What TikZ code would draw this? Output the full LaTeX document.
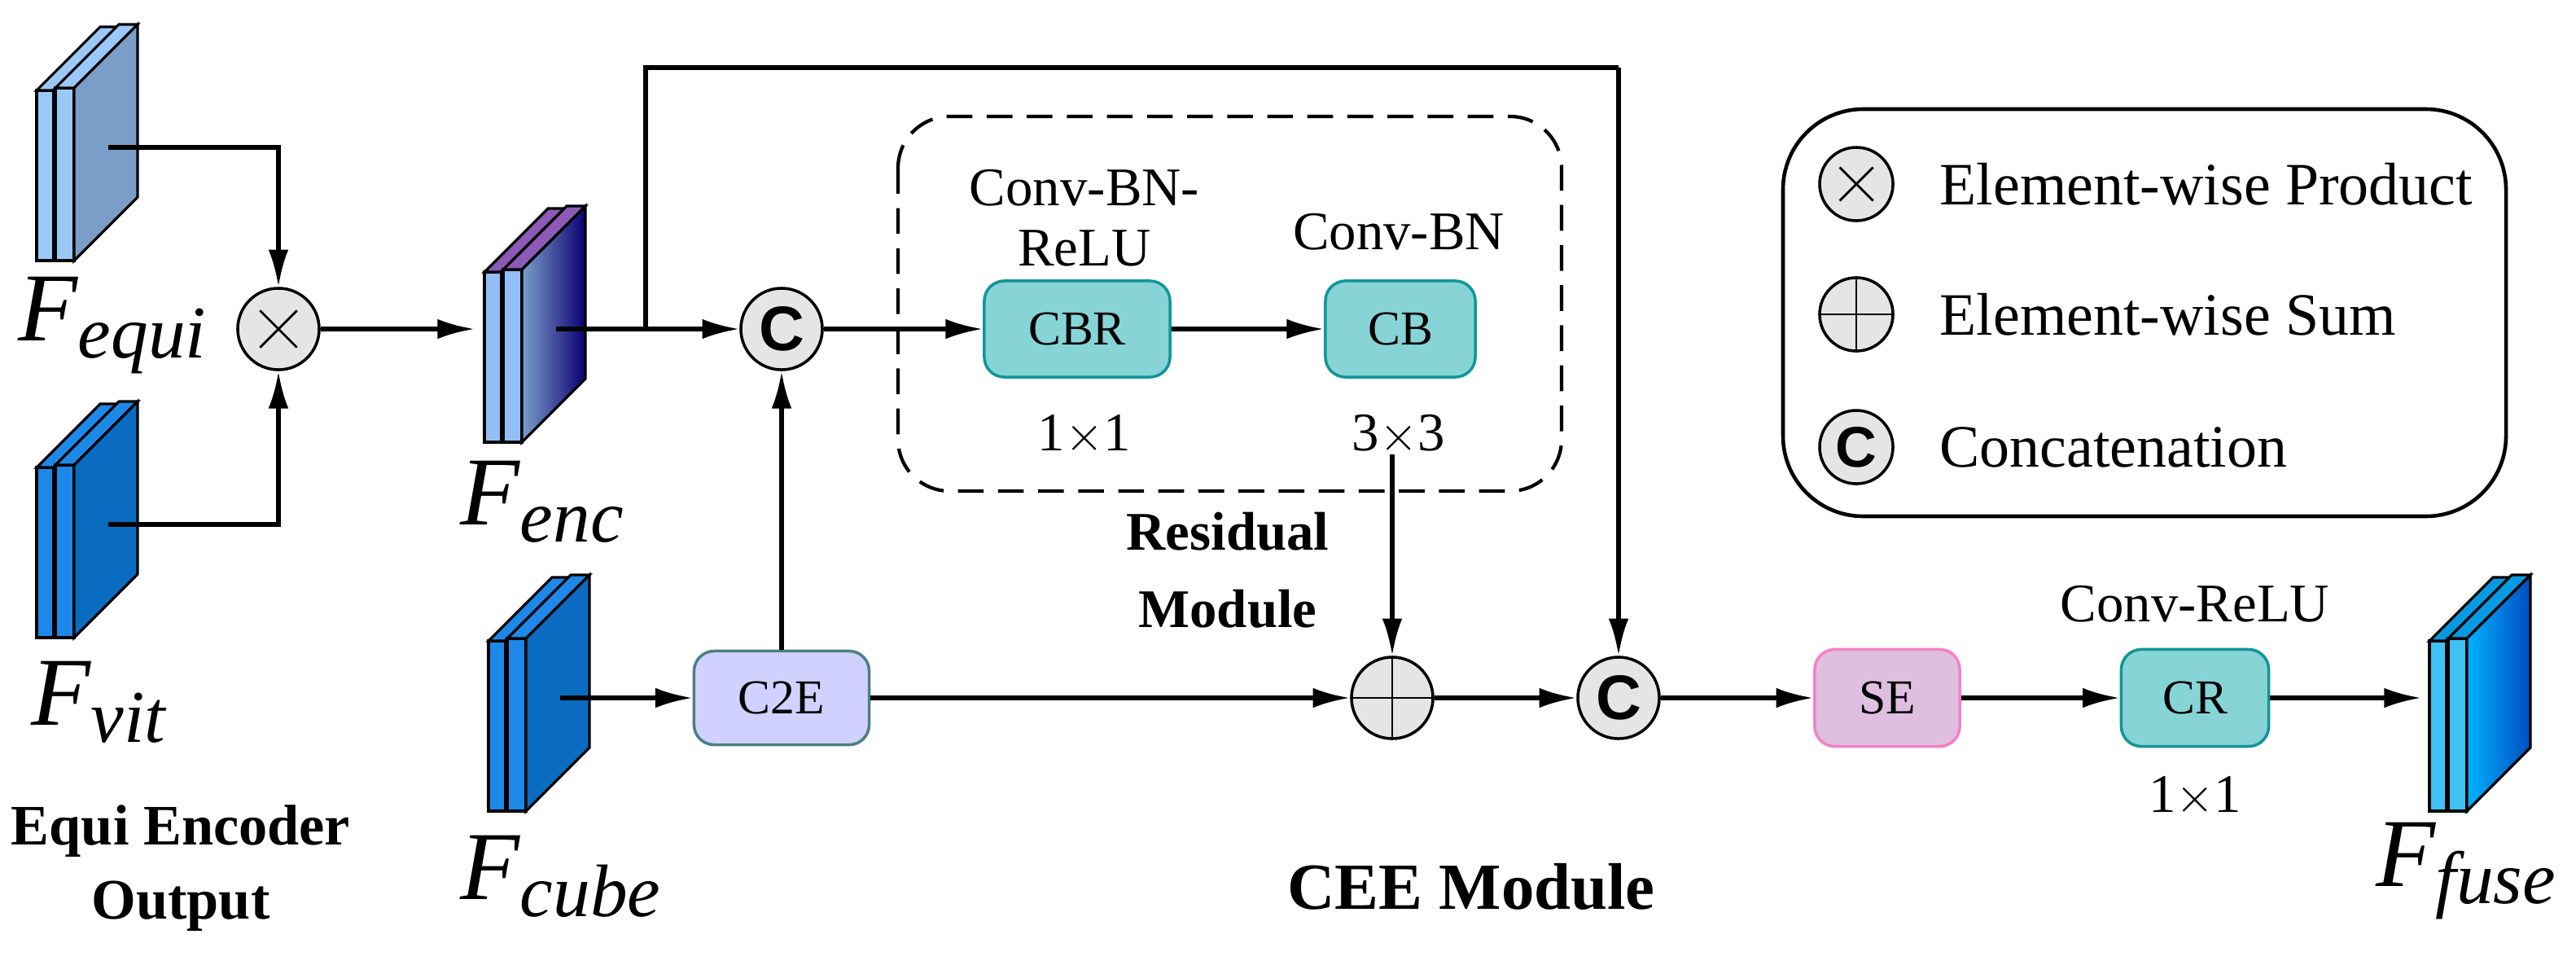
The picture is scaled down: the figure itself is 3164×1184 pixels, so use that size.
\documentclass[tikz,border=0pt]{standalone}
\usepackage{fontspec}
\setmainfont{Liberation Serif}
\newfontfamily\csans{Liberation Sans}
\usetikzlibrary{arrows.meta,calc}
\newcommand{\fs}[1]{\fontsize{#1}{#1}\selectfont}
% #1 x0, #2 y0, #3 strip colour, #4 strip top colour, #5 face left, #6 face right, #7 name
\newcommand{\fmap}[7]{%
  \draw[blk,fill=#3] (#1,#2+3) rectangle (#1+21,#2+212);
  \draw[blk,fill=#4] (#1,#2+3) -- (#1+78,#2-75) -- (#1+99,#2-75) -- (#1+21,#2+3) -- cycle;
  \draw[blk,fill=#3] (#1+23,#2) rectangle (#1+46,#2+212);
  \draw[blk,fill=#4] (#1+23,#2) -- (#1+101,#2-78) -- (#1+124,#2-78) -- (#1+46,#2) -- cycle;
  \draw[blk,left color=#5,right color=#6] (#1+46,#2) -- (#1+124,#2-78) -- (#1+124,#2+134) -- (#1+46,#2+212) -- cycle;
  \coordinate (#7) at (#1+88,#2+73);}
\definecolor{lb}{HTML}{9CC8F8}
\definecolor{lbf}{HTML}{7A9EC8}
\definecolor{db}{HTML}{1E88E8}
\definecolor{dbf}{HTML}{0A6CC0}
\definecolor{teal1}{HTML}{86D4D6}
\definecolor{teal2}{HTML}{12959A}
\begin{document}
\begin{tikzpicture}[x=0.01cm,y=-0.01cm,
  blk/.style={line width=0.9pt,line join=miter},
  arr/.style={line width=1.5pt,-{Latex[length=13pt,width=7pt]}},
  ln/.style={line width=1.5pt},
  op/.style={circle,draw,line width=1pt,fill=black!10,minimum size=1cm,inner sep=0pt},
  lop/.style={op,minimum size=0.9cm},
  box/.style={draw,rounded corners=7pt,line width=1pt,font=\fs{17},inner sep=0pt},
  txt/.style={font=\fs{19},align=center},
  btxt/.style={font=\fs{19}\bfseries,align=center},
  lbl/.style={inner sep=0pt}]
\useasboundingbox (0,0) rectangle (3164,1184);

% feature maps
\fmap{45}{108}{lb}{lb}{lbf}{lbf}{equiC}
\fmap{45}{571}{db}{db}{dbf}{dbf}{vitC}
\fmap{595}{331}{lb!95!blue}{violet!55!lb}{lbf}{blue!45!black!90!violet}{encC}
\fmap{600}{784}{db}{db}{dbf}{dbf}{cubeC}
\fmap{2984}{784}{cyan!75!white}{cyan!85!blue}{cyan!70!blue}{blue!65!black!70!cyan}{fuseC}

% labels of feature maps
\newcommand{\Flab}[1]{{\fs{34}\itshape F}\raisebox{-0.6em}{\fs{26}\itshape #1}}
\node[lbl,anchor=west] (lequi) at (22,400) {\Flab{equi}};
\node[lbl,anchor=west] (lvit) at (38,862) {\Flab{vit}};
\node[lbl,anchor=west] (lenc) at (565,616) {\Flab{enc}};
\node[lbl,anchor=west] (lcube) at (565,1076) {\Flab{cube}};
\node[lbl,anchor=west] (lfuse) at (2918,1070) {\Flab{fuse}};
\node[btxt,font=\fs{20}\bfseries] (eeo) at (222,1066) {Equi Encoder\\[6pt]Output};

% operators
\node[op] (mul) at (342,404) {};
\draw[line width=0.8pt] ($(mul.center)!0.62!(mul.north west)$) -- ($(mul.center)!0.62!(mul.south east)$);
\draw[line width=0.8pt] ($(mul.center)!0.62!(mul.north east)$) -- ($(mul.center)!0.62!(mul.south west)$);
\node[op,font=\fs{22}\csans\bfseries] (c1) at (960,404) {C};
\node[op] (plus) at (1710,857) {};
\draw[line width=0.8pt] (plus.north) -- (plus.south) (plus.west) -- (plus.east);
\node[op,font=\fs{22}\csans\bfseries] (c2) at (1988,857) {C};

% residual module
\draw[line width=1.2pt,dash pattern=on 9pt off 5pt,rounded corners=18pt] (1103,143) rectangle (1918,603);
\node[box,fill=teal1,draw=teal2,minimum width=2.28cm,minimum height=1.18cm] (cbr) at (1323,404) {CBR};
\node[box,fill=teal1,draw=teal2,minimum width=1.84cm,minimum height=1.18cm] (cb) at (1720,404) {CB};
\node[txt] (tcbr) at (1332,268) {Conv-BN-\\[2pt]ReLU};
\node[txt] (tcb) at (1718,285) {Conv-BN};
\node[txt] (k1) at (1332,534) {1$\times$1};
\node[txt] (k3) at (1718,534) {3$\times$3};
\coordinate (rs) at (1710,558);
\node[btxt] (res) at (1508,700) {Residual\\[8pt]Module};

% lower path boxes
\node[box,fill=blue!18!white,draw=teal!40!gray,minimum width=2.15cm,minimum height=1.15cm] (c2e) at (960,857) {C2E};
\node[box,fill=violet!25!white,draw=magenta!50!white,minimum width=1.78cm,minimum height=1.19cm] (se) at (2318,857) {SE};
\node[box,fill=teal1,draw=teal2,minimum width=1.81cm,minimum height=1.19cm] (cr) at (2696,857) {CR};
\node[txt] (tcr) at (2696,742) {Conv-ReLU};
\node[txt] (k1b) at (2696,978) {1$\times$1};
\node[btxt,font=\fs{23}\bfseries] (cee) at (1807,1089) {CEE Module};

% connectors
\coordinate (encIn) at (583,404);
\coordinate (br) at (793,404);
\coordinate (tp) at (1988,83);
\coordinate (fuseIn) at (2974,857);
\draw[arr] (equiC) -| (mul.north);
\draw[arr] (vitC) -| (mul.south);
\draw[arr] (mul.east) -- (encIn);
\draw[arr] (encC) -- (c1.west);
\draw[ln] (br) |- (tp);
\draw[arr] (tp) -- (c2.north);
\draw[arr] (c1.east) -- (cbr.west);
\draw[arr] (cbr.east) -- (cb.west);
\draw[arr] (rs) -- (plus.north);
\draw[arr] (cubeC) -- (c2e.west);
\draw[arr] (c2e.north) -- (c1.south);
\draw[arr] (c2e.east) -- (plus.west);
\draw[arr] (plus.east) -- (c2.west);
\draw[arr] (c2.east) -- (se.west);
\draw[arr] (se.east) -- (cr.west);
\draw[arr] (cr.east) -- (fuseIn);

% legend
\draw[line width=1.3pt,rounded corners=28pt] (2190,134) rectangle (3078,634);
\node[lop] (lmul) at (2280,226) {};
\draw[line width=0.8pt] ($(lmul.center)!0.62!(lmul.north west)$) -- ($(lmul.center)!0.62!(lmul.south east)$);
\draw[line width=0.8pt] ($(lmul.center)!0.62!(lmul.north east)$) -- ($(lmul.center)!0.62!(lmul.south west)$);
\node[lop] (lplus) at (2280,386) {};
\draw[line width=0.8pt] (lplus.north) -- (lplus.south) (lplus.west) -- (lplus.east);
\node[lop,font=\fs{20}\csans\bfseries] (lc) at (2280,549) {C};
\node[anchor=west,font=\fs{21},inner sep=0pt] (t1) at (2382,226) {Element-wise Product};
\node[anchor=west,font=\fs{21},inner sep=0pt] (t2) at (2382,386) {Element-wise Sum};
\node[anchor=west,font=\fs{21},inner sep=0pt] (t3) at (2382,549) {Concatenation};
\end{tikzpicture}
\end{document}
